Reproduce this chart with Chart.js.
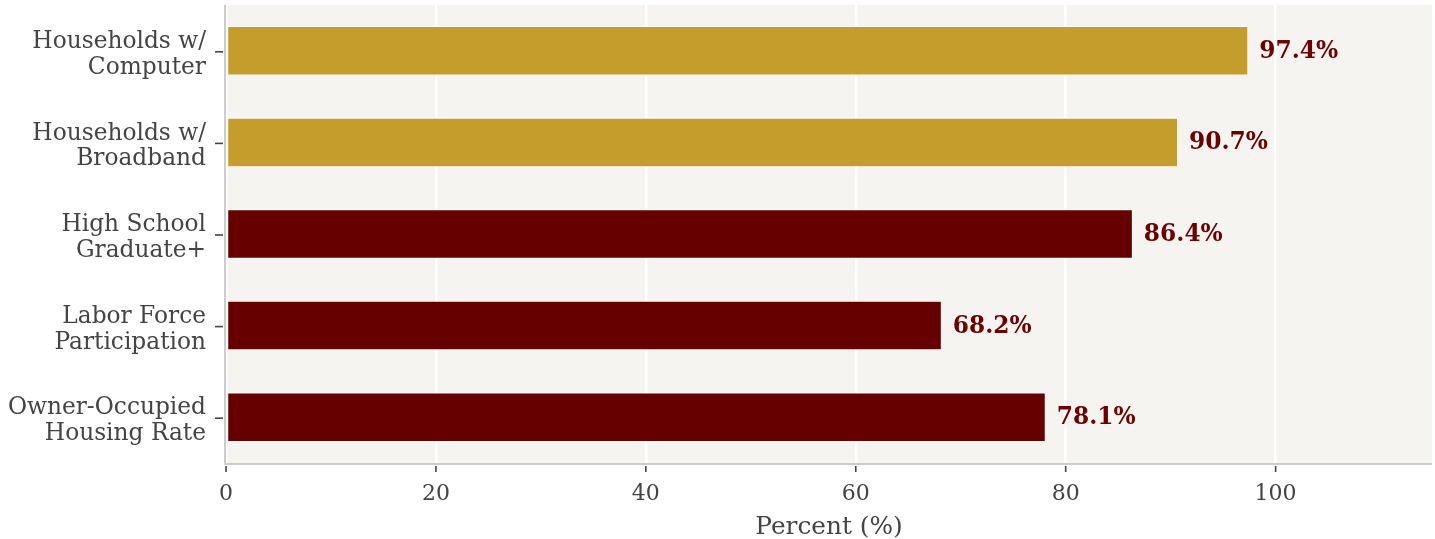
<!DOCTYPE html>
<html><head><meta charset="utf-8">
<script src="https://cdn.jsdelivr.net/npm/chart.js@4"></script>
<style>html,body{margin:0;padding:0;background:#fff}#wrap{width:1435px;height:539px}</style>
</head><body><div id="wrap"><canvas id="c" width="1435" height="539"></canvas></div>
<script>
const categories = [["Households w/","Computer"],["Households w/","Broadband"],["High School","Graduate+"],["Labor Force","Participation"],["Owner-Occupied","Housing Rate"]];
const values = [97.4, 90.7, 86.4, 68.2, 78.1];
const barColors = ["#C49D2C","#C49D2C","#660000","#660000","#660000"];
const xTicks = [0,20,40,60,80,100];
const xMax = 114.9;

const FONT = "'DejaVu Serif', serif";

const bgPlugin = {
  id:'bg',
  beforeDraw(chart){
    const {ctx, chartArea:a} = chart;
    ctx.save(); ctx.fillStyle='#F5F4F1';
    ctx.fillRect(a.left, a.top, a.right-a.left, a.bottom-a.top);
    ctx.restore();
  },
  afterDatasetsDraw(chart){
    const {ctx, chartArea:a, scales} = chart;
    ctx.save();
    ctx.strokeStyle='#CCCCCC'; ctx.lineWidth=2;
    ctx.beginPath(); ctx.moveTo(a.left-1, a.top); ctx.lineTo(a.left-1, a.bottom+1); ctx.lineTo(a.right, a.bottom+1); ctx.stroke();
    ctx.strokeStyle='#444'; ctx.lineWidth=1.6;
    scales.x.ticks.forEach((t)=>{
      const px = scales.x.getPixelForValue(t.value);
      ctx.beginPath(); ctx.moveTo(px, a.bottom+3); ctx.lineTo(px, a.bottom+9); ctx.stroke();
    });
    scales.y.ticks.forEach((t,i)=>{
      const py = scales.y.getPixelForTick(i);
      ctx.beginPath(); ctx.moveTo(a.left-11, py+1); ctx.lineTo(a.left-3, py+1); ctx.stroke();
    });
    const meta = chart.getDatasetMeta(0);
    ctx.fillStyle='#6B0000'; ctx.font="bold 23.3px "+FONT; ctx.textBaseline='middle'; ctx.textAlign='left';
    meta.data.forEach((bar,i)=>{
      ctx.fillText(values[i].toFixed(1)+'%', bar.x+11, bar.y+1);
    });
    ctx.restore();
  }
};

new Chart(document.getElementById('c'), {
  type:'bar',
  data:{ labels: categories, datasets:[{ data: values, backgroundColor: barColors, borderColor:'#FFFFFF', borderWidth:1, borderSkipped:false, categoryPercentage:1, barPercentage:0.54 }]},
  options:{
    indexAxis:'y', responsive:false, animation:false,
    layout:{padding:{top:5, right:3, left:0, bottom:0}},
    plugins:{legend:{display:false}, tooltip:{enabled:false}},
    scales:{
      x:{ type:'linear', min:0, max:xMax,
          afterBuildTicks(s){ s.ticks = xTicks.map(v=>({value:v})); },
          grid:{ color:'#FFFFFF', lineWidth:2.5, drawTicks:false, tickLength:0 },
          border:{display:false},
          ticks:{ color:'#444', font:{family:FONT, size:22}, padding:18 },
          title:{ display:true, text:'Percent (%)', color:'#444', font:{family:FONT, size:24.8}, padding:{top:8,bottom:-3} },
          afterFit(s){ s.height = 76; s.paddingLeft = 0; s.paddingRight = 0; }
      },
      y:{ grid:{display:false, drawTicks:false}, border:{display:false},
          ticks:{ color:'#444', font:{family:FONT, size:23.3, lineHeight:1.11}, padding:20, labelOffset:4 },
          afterFit(s){ s.width = 226; s.paddingTop = 0; s.paddingBottom = 0; }
      }
    }
  },
  plugins:[bgPlugin]
});
</script>
</body></html>
